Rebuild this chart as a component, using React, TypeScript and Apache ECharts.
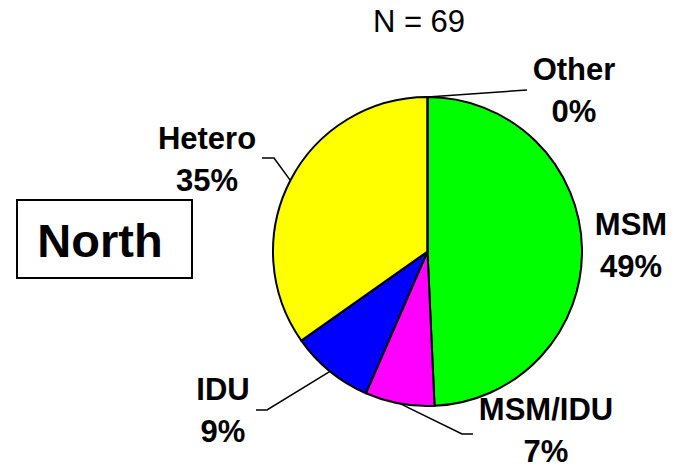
import { useEffect, useRef } from 'react';
import * as echarts from 'echarts';

// ---- data ----
const categories = ['MSM', 'MSM/IDU', 'IDU', 'Hetero', 'Other'];
const counts = [34, 5, 6, 24, 0];
const sliceColors = ['#00FF00', '#FF00FF', '#0000FF', '#FFFF00', '#808080'];
const totalN = 69;
const regionName = 'North';

// ---- label placement (layout only) ----
const labelSpots: { x: number; y: number; line: number[][] | null }[] = [
  { x: 631, y: 238, line: null },
  { x: 546, y: 423, line: [[462, 434], [473, 434]] },
  { x: 223, y: 403, line: [[267, 410], [256, 410]] },
  { x: 207, y: 152, line: [[274, 158], [262, 158]] },
  { x: 574, y: 83, line: [[527, 90], [527, 90]] },
];

const FONT = '"Liberation Sans", Arial, Helvetica, sans-serif';

export default function App() {
  const ref = useRef<HTMLDivElement>(null);
  useEffect(() => {
    if (!ref.current) return;
    const chart = echarts.init(ref.current, null, { renderer: 'svg' });
    const data = categories.map((name, i) => ({
      name,
      value: counts[i],
      itemStyle: { color: sliceColors[i] },
      labelLine: { show: labelSpots[i].line !== null },
    }));
    const labelText = { color: '#000', fontFamily: FONT, fontWeight: 'bold', fontSize: 31 };
    chart.setOption({
      animation: false,
      backgroundColor: '#ffffff',
      graphic: [
        {
          type: 'text',
          x: 419,
          y: 21,
          style: {
            text: `N = ${totalN}`,
            align: 'center',
            verticalAlign: 'middle',
            fill: '#000',
            font: `normal 31px ${FONT}`,
          },
        },
        {
          type: 'rect',
          shape: { x: 17, y: 200, width: 175, height: 78 },
          style: { fill: '#fff', stroke: '#000', lineWidth: 2 },
        },
        {
          type: 'text',
          x: 100,
          y: 240,
          style: {
            text: regionName,
            align: 'center',
            verticalAlign: 'middle',
            fill: '#000',
            font: `bold 47px ${FONT}`,
          },
        },
      ],
      series: [
        {
          type: 'pie',
          center: [427.5, 251.5],
          radius: 154.5,
          startAngle: 90,
          clockwise: true,
          avoidLabelOverlap: false,
          silent: true,
          emphasis: { disabled: true },
          itemStyle: { borderColor: '#000', borderWidth: 2 },
          label: {
            show: true,
            position: 'outside',
            ...labelText,
            formatter: (p: any) => `{t|${p.name}}\n{v|${Math.round(p.percent)}%}`,
            rich: {
              t: { ...labelText, lineHeight: 56 },
              v: { ...labelText, lineHeight: 28 },
            },
          },
          labelLine: {
            show: true,
            length: 10,
            length2: 10,
            smooth: false,
            lineStyle: { color: '#000', width: 1.5 },
          },
          labelLayout: (params: any) => {
            const s = labelSpots[params.dataIndex];
            const start = params.labelLinePoints && params.labelLinePoints[0];
            const out: any = { x: s.x, y: s.y, align: 'center', verticalAlign: 'middle' };
            if (s.line && start) out.labelLinePoints = [start, ...s.line];
            return out;
          },
          data,
        },
      ],
    });
    return () => chart.dispose();
  }, []);
  return (
    <div
      ref={ref}
      style={{ position: 'fixed', left: 0, top: 0, width: 673, height: 469, background: '#fff' }}
    />
  );
}
